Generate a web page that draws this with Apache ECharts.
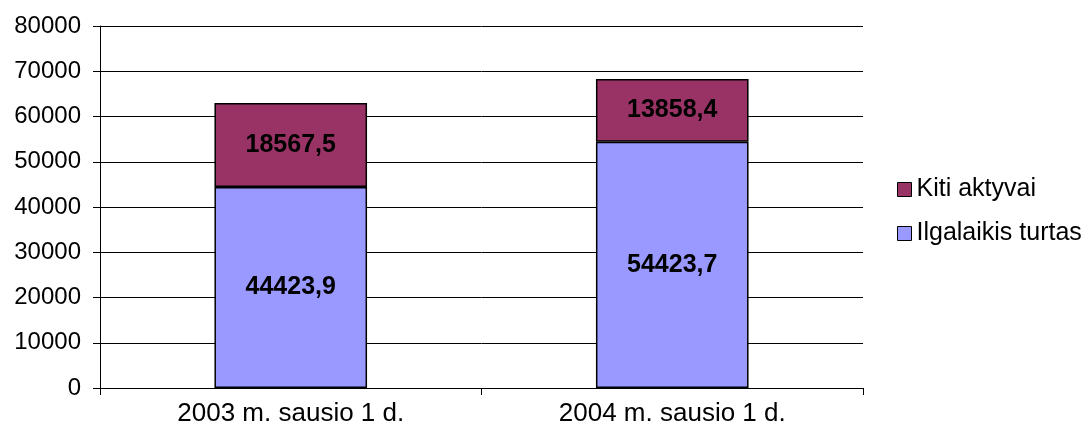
<!DOCTYPE html>
<html>
<head>
<meta charset="utf-8">
<script src="https://cdn.jsdelivr.net/npm/echarts@6/dist/echarts.min.js"></script>
<style>
  html, body { margin: 0; padding: 0; background: #fff; }
  #main { width: 1092px; height: 434px; }
</style>
</head>
<body>
<div id="main"></div>
<script>
var categories = ['2003 m. sausio 1 d.', '2004 m. sausio 1 d.'];
var ilgalaikis = [44423.9, 54423.7];
var kiti = [18567.5, 13858.4];
var yTicks = [0, 10000, 20000, 30000, 40000, 50000, 60000, 70000, 80000];

function fmt(p) {
    return String(p.value).replace('.', ',');
}

var myChart = echarts.init(document.getElementById('main'));
var font = 'Liberation Sans, Arial, sans-serif';
var option = {
    animation: false,
    grid: { left: 100, right: 229, top: 26, bottom: 46 },
    legend: {
        orient: 'vertical',
        left: 892,
        top: 172,
        itemWidth: 14,
        itemHeight: 14,
        itemGap: 19,
        icon: 'rect',
        data: ['Kiti aktyvai', 'Ilgalaikis turtas'],
        itemStyle: { borderColor: '#000', borderWidth: 1 },
        textStyle: { fontFamily: font, fontSize: 25, color: '#000' }
    },
    xAxis: {
        type: 'category',
        data: categories,
        axisLine: { lineStyle: { color: '#000', width: 1 } },
        axisTick: { show: true, length: 7, lineStyle: { color: '#000' } },
        axisLabel: { fontFamily: font, fontSize: 26, color: '#000', margin: 13 }
    },
    yAxis: {
        type: 'value',
        min: yTicks[0],
        max: yTicks[yTicks.length - 1],
        interval: 10000,
        axisLine: { show: true, lineStyle: { color: '#000', width: 1 } },
        axisTick: { show: true, length: 7, lineStyle: { color: '#000' } },
        axisLabel: { fontFamily: font, fontSize: 24, color: '#000', margin: 19, formatter: function (v) { return String(v); } },
        splitLine: { show: true, lineStyle: { color: '#000', width: 1 } }
    },
    series: [
        {
            name: 'Ilgalaikis turtas',
            type: 'bar',
            stack: 'a',
            barWidth: '40%',
            data: ilgalaikis,
            itemStyle: { color: '#9999FF', borderColor: '#000', borderWidth: 1.5 },
            label: { show: true, position: 'inside', formatter: fmt, fontFamily: font, fontSize: 25, fontWeight: 'bold', color: '#000' }
        },
        {
            name: 'Kiti aktyvai',
            type: 'bar',
            stack: 'a',
            data: kiti,
            itemStyle: { color: '#993366', borderColor: '#000', borderWidth: 1.5 },
            label: { show: true, position: 'inside', formatter: fmt, fontFamily: font, fontSize: 25, fontWeight: 'bold', color: '#000' }
        }
    ]
};
myChart.setOption(option);
</script>
</body>
</html>
